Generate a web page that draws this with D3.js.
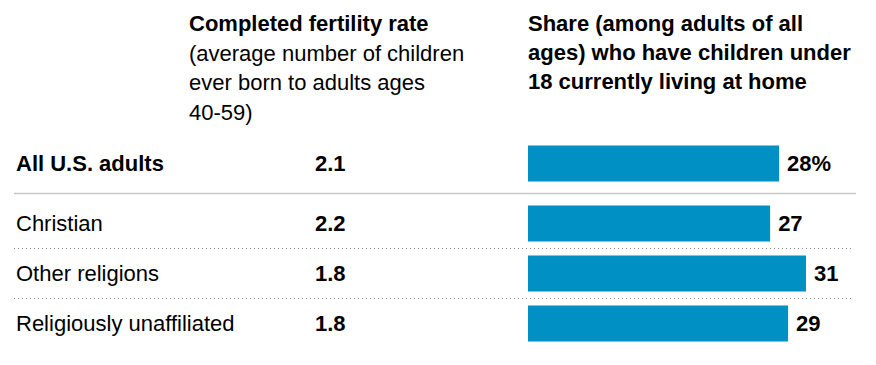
<!DOCTYPE html>
<html>
<head>
<meta charset="utf-8">
<title>Fertility and children at home by religion</title>
<script src="https://d3js.org/d3.v7.min.js"></script>
<style>
    body { margin: 0; background: #fff; }
    text { font-family: "Liberation Sans", Arial, sans-serif; fill: #000; }
</style>
</head>
<body>
<div id="chart"></div>
<script>
// data
var groups = ["All U.S. adults", "Christian", "Other religions", "Religiously unaffiliated"];
var fertility = [2.1, 2.2, 1.8, 1.8];
var shareHome = [28, 27, 31, 29];
var slots = [0, 1.2, 2.2, 3.2];   // first row sits a bit apart from the rest

var leftHeader = ["Completed fertility rate", "(average number of children", "ever born to adults ages", "40-59)"];
var rightHeader = ["Share (among adults of all", "ages) who have children under", "18 currently living at home"];

var width = 876, height = 365;

var svg = d3.select("#chart")
    .append("svg")
    .attr("width", width)
    .attr("height", height);

// scales
var y = d3.scaleLinear().domain([0, 1]).range([163.5, 213.5]);
var x = d3.scaleLinear().domain([0, 31]).range([528, 806]);
var barH = 36;

// headers
svg.append("g").selectAll("text")
    .data(leftHeader)
    .enter().append("text")
    .attr("x", 189)
    .attr("y", function (d, i) { return 31 + i * 29.7; })
    .style("font-size", "22px")
    .style("font-weight", function (d, i) { return i == 0 ? "bold" : "normal"; })
    .text(function (d) { return d; });

svg.append("g").selectAll("text")
    .data(rightHeader)
    .enter().append("text")
    .attr("x", x(0))
    .attr("y", function (d, i) { return 31 + i * 29; })
    .style("font-size", "22px")
    .style("font-weight", "bold")
    .text(function (d) { return d; });

// separators
svg.append("line")
    .attr("x1", 14).attr("x2", 856)
    .attr("y1", y((slots[0] + slots[1]) / 2)).attr("y2", y((slots[0] + slots[1]) / 2))
    .attr("stroke", "#c8c8c8")
    .attr("stroke-width", 1.5);

svg.append("g").selectAll("line")
    .data(slots.slice(1, 3))
    .enter().append("line")
    .attr("x1", 14).attr("x2", 854)
    .attr("y1", function (d) { return y(d + 0.5); })
    .attr("y2", function (d) { return y(d + 0.5); })
    .attr("stroke", "#8a8a8a")
    .attr("stroke-width", 1)
    .attr("stroke-dasharray", "1,3");

// rows
var rows = svg.append("g").selectAll("g")
    .data(groups)
    .enter().append("g")
    .attr("transform", function (d, i) { return "translate(0," + y(slots[i]) + ")"; });

rows.append("text")
    .attr("x", 16)
    .attr("dy", "0.35em")
    .style("font-size", "22px")
    .style("font-weight", function (d, i) { return i == 0 ? "bold" : "normal"; })
    .text(function (d) { return d; });

rows.append("text")
    .attr("x", 315)
    .attr("dy", "0.35em")
    .style("font-size", "22px")
    .style("font-weight", "bold")
    .text(function (d, i) { return fertility[i].toFixed(1); });

rows.append("rect")
    .attr("x", x(0))
    .attr("y", -barH / 2)
    .attr("width", function (d, i) { return x(shareHome[i]) - x(0); })
    .attr("height", barH)
    .attr("fill", "#0090c4");

rows.append("text")
    .attr("x", function (d, i) { return x(shareHome[i]) + 8; })
    .attr("dy", "0.35em")
    .style("font-size", "22px")
    .style("font-weight", "bold")
    .text(function (d, i) { return shareHome[i] + (i == 0 ? "%" : ""); });
</script>
</body>
</html>
